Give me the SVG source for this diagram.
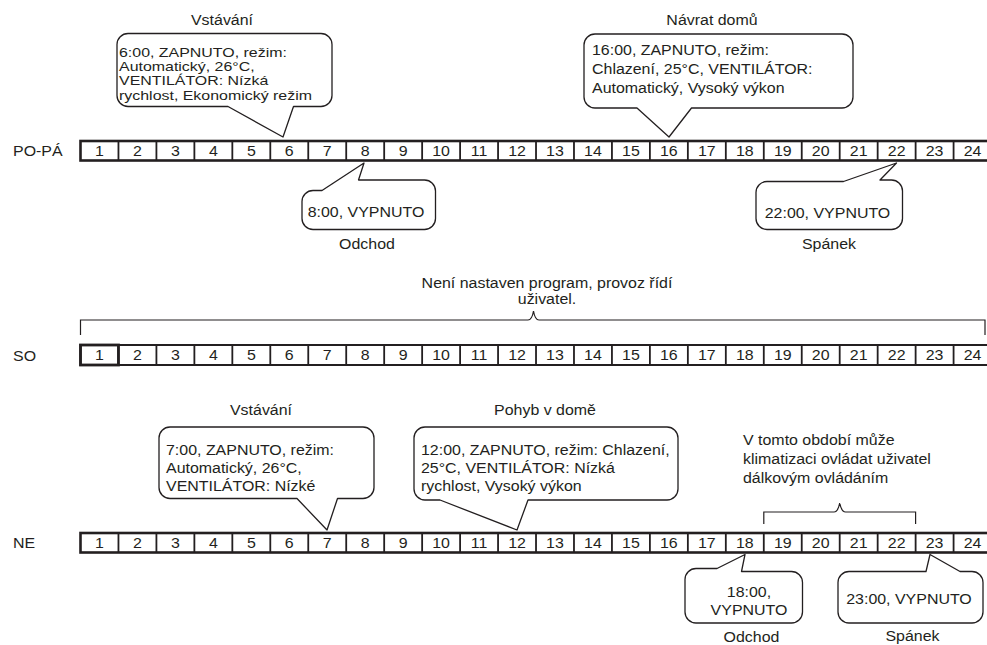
<svg xmlns="http://www.w3.org/2000/svg" xmlns:xlink="http://www.w3.org/1999/xlink" width="987" height="645" viewBox="0 0 987 645">
<style>
.t{font-family:"Liberation Sans",Arial,Helvetica,sans-serif;font-size:14.5px;fill:#231f20}
.s{font-size:12.6px}
.m{text-anchor:middle}
.box{fill:#fff;stroke:#231f20;stroke-width:2.6}
.box2{fill:#fff;stroke:#231f20;stroke-width:2}
.sep{fill:none;stroke:#231f20;stroke-width:1.8}
.bub{fill:#fff;stroke:#231f20;stroke-width:1.3;stroke-linejoin:round}
.br{fill:none;stroke:#231f20;stroke-width:1.2}
</style>
<defs>
<path id="seps" class="sep" d="M118.46 0V20M156.42 0V20M194.38 0V20M232.34 0V20M270.3 0V20M308.26 0V20M346.22 0V20M384.18 0V20M422.14 0V20M460.1 0V20M498.06 0V20M536.02 0V20M573.98 0V20M611.94 0V20M649.9 0V20M687.86 0V20M725.82 0V20M763.78 0V20M801.74 0V20M839.7 0V20M877.66 0V20M915.62 0V20M953.58 0V20"/>
</defs>

<rect width="987" height="645" fill="#fff"/>

<!-- Row PO-PA -->
<g id="row-popa">
<text class="t" transform="translate(13 156) scale(1.1 1)">PO-PÁ</text>
<rect class="box" x="80.5" y="141" width="911" height="19.5"/>
<use xlink:href="#seps" y="140.7"/>
<g class="t m" transform="scale(1.1 1)">
<text x="90.44" y="156">1</text><text x="124.95" y="156">2</text><text x="159.46" y="156">3</text><text x="193.97" y="156">4</text><text x="228.48" y="156">5</text><text x="262.98" y="156">6</text><text x="297.49" y="156">7</text><text x="332" y="156">8</text><text x="366.51" y="156">9</text><text x="401.02" y="156">10</text><text x="435.53" y="156">11</text><text x="470.04" y="156">12</text><text x="504.55" y="156">13</text><text x="539.05" y="156">14</text><text x="573.56" y="156">15</text><text x="608.07" y="156">16</text><text x="642.58" y="156">17</text><text x="677.09" y="156">18</text><text x="711.6" y="156">19</text><text x="746.11" y="156">20</text><text x="780.62" y="156">21</text><text x="815.13" y="156">22</text><text x="849.64" y="156">23</text><text x="884.15" y="156">24</text>
</g>
</g>

<!-- Row SO -->
<g id="row-so">
<text class="t" transform="translate(13 360.5) scale(1.1 1)">SO</text>
<rect class="box2" x="80.5" y="345" width="911" height="20"/>
<use xlink:href="#seps" y="345"/>
<rect x="80.5" y="345" width="37.96" height="20" fill="none" stroke="#231f20" stroke-width="2.8"/>
<g class="t m" transform="scale(1.1 1)">
<text x="90.44" y="360.5">1</text><text x="124.95" y="360.5">2</text><text x="159.46" y="360.5">3</text><text x="193.97" y="360.5">4</text><text x="228.48" y="360.5">5</text><text x="262.98" y="360.5">6</text><text x="297.49" y="360.5">7</text><text x="332" y="360.5">8</text><text x="366.51" y="360.5">9</text><text x="401.02" y="360.5">10</text><text x="435.53" y="360.5">11</text><text x="470.04" y="360.5">12</text><text x="504.55" y="360.5">13</text><text x="539.05" y="360.5">14</text><text x="573.56" y="360.5">15</text><text x="608.07" y="360.5">16</text><text x="642.58" y="360.5">17</text><text x="677.09" y="360.5">18</text><text x="711.6" y="360.5">19</text><text x="746.11" y="360.5">20</text><text x="780.62" y="360.5">21</text><text x="815.13" y="360.5">22</text><text x="849.64" y="360.5">23</text><text x="884.15" y="360.5">24</text>
</g>
</g>

<!-- Row NE -->
<g id="row-ne">
<text class="t" transform="translate(13 548) scale(1.1 1)">NE</text>
<rect class="box" x="80.5" y="533" width="911" height="19.5"/>
<use xlink:href="#seps" y="532.7"/>
<g class="t m" transform="scale(1.1 1)">
<text x="90.44" y="548">1</text><text x="124.95" y="548">2</text><text x="159.46" y="548">3</text><text x="193.97" y="548">4</text><text x="228.48" y="548">5</text><text x="262.98" y="548">6</text><text x="297.49" y="548">7</text><text x="332" y="548">8</text><text x="366.51" y="548">9</text><text x="401.02" y="548">10</text><text x="435.53" y="548">11</text><text x="470.04" y="548">12</text><text x="504.55" y="548">13</text><text x="539.05" y="548">14</text><text x="573.56" y="548">15</text><text x="608.07" y="548">16</text><text x="642.58" y="548">17</text><text x="677.09" y="548">18</text><text x="711.6" y="548">19</text><text x="746.11" y="548">20</text><text x="780.62" y="548">21</text><text x="815.13" y="548">22</text><text x="849.64" y="548">23</text><text x="884.15" y="548">24</text>
</g>
</g>

<!-- Callouts PO-PA -->
<g id="callout-popa-6">
<text class="t m" transform="translate(222 25) scale(1.1 1)">Vstávání</text>
<path class="bub" d="M128,33.5H321A11,11 0 0 1 332,44.5V95.5A11,11 0 0 1 321,106.5H293.5L283,137L228,106.5H128A11,11 0 0 1 117,95.5V44.5A11,11 0 0 1 128,33.5Z"/>
<text class="t s" transform="translate(119 56.5) scale(1.265 1)"><tspan x="0" y="0">6:00, ZAPNUTO, režim:</tspan><tspan x="0" y="14.4">Automatický, 26°C,</tspan><tspan x="0" y="28.8">VENTILÁTOR: Nízká</tspan><tspan x="0" y="43.2">rychlost, Ekonomický režim</tspan></text>
</g>

<g id="callout-popa-16">
<text class="t m" transform="translate(712 25) scale(1.1 1)">Návrat domů</text>
<path class="bub" d="M595,34H842A11,11 0 0 1 853,45V97A11,11 0 0 1 842,108H691.5L669,137L637,108H595A11,11 0 0 1 584,97V45A11,11 0 0 1 595,34Z"/>
<text class="t" transform="translate(592 55) scale(1.1 1)"><tspan x="0" y="0">16:00, ZAPNUTO, režim:</tspan><tspan x="0" y="19">Chlazení, 25°C, VENTILÁTOR:</tspan><tspan x="0" y="38">Automatický, Vysoký výkon</tspan></text>
</g>

<g id="callout-popa-8">
<path class="bub" d="M313,190.5H322L364,163L358.5,180H424.5A11,11 0 0 1 435.5,191V218.5A11,11 0 0 1 424.5,229.5H313A11,11 0 0 1 302,218.5V201.5A11,11 0 0 1 313,190.5Z"/>
<text class="t m" transform="translate(366 217) scale(1.1 1)">8:00, VYPNUTO</text>
<text class="t m" transform="translate(367 249) scale(1.1 1)">Odchod</text>
</g>

<g id="callout-popa-22">
<path class="bub" d="M767,181.5H843.5L896.5,163L880,180H891.5A11,11 0 0 1 902.5,191V218.5A11,11 0 0 1 891.5,229.5H767A11,11 0 0 1 756,218.5V192.5A11,11 0 0 1 767,181.5Z"/>
<text class="t m" transform="translate(827.5 217.5) scale(1.1 1)">22:00, VYPNUTO</text>
<text class="t m" transform="translate(829 249) scale(1.1 1)">Spánek</text>
</g>

<!-- SO note -->
<g id="note-so">
<text class="t m" transform="translate(547 287.5) scale(1.1 1)"><tspan x="0" y="0">Není nastaven program, provoz řídí</tspan><tspan x="0" y="16.5">uživatel.</tspan></text>
</g>

<!-- Callouts NE -->
<g id="callout-ne-7">
<text class="t m" transform="translate(261 415) scale(1.1 1)">Vstávání</text>
<path class="bub" d="M170,427H363A11,11 0 0 1 374,438V487.5A11,11 0 0 1 363,498.5H337.5L327,530L297,498.5H170A11,11 0 0 1 159,487.5V438A11,11 0 0 1 170,427Z"/>
<text class="t" transform="translate(166 455) scale(1.1 1)"><tspan x="0" y="0">7:00, ZAPNUTO, režim:</tspan><tspan x="0" y="18">Automatický, 26°C,</tspan><tspan x="0" y="36">VENTILÁTOR: Nízké</tspan></text>
</g>

<g id="callout-ne-12">
<text class="t m" transform="translate(545 415) scale(1.1 1)">Pohyb v domě</text>
<path class="bub" d="M425,427H667A11,11 0 0 1 678,438V489A11,11 0 0 1 667,500H528L517,530L440,500H425A11,11 0 0 1 414,489V438A11,11 0 0 1 425,427Z"/>
<text class="t" transform="translate(421 455) scale(1.1 1)"><tspan x="0" y="0">12:00, ZAPNUTO, režim: Chlazení,</tspan><tspan x="0" y="18">25°C, VENTILÁTOR: Nízká</tspan><tspan x="0" y="36">rychlost, Vysoký výkon</tspan></text>
</g>

<g id="note-ne">
<text class="t" transform="translate(743 445) scale(1.1 1)"><tspan x="0" y="0">V tomto období může</tspan><tspan x="0" y="19">klimatizaci ovládat uživatel</tspan><tspan x="0" y="38">dálkovým ovládáním</tspan></text>
</g>

<g id="callout-ne-18">
<path class="bub" d="M696,568.5H717L745,554.5L741.5,571.5H791.5A11,11 0 0 1 802.5,582.5V612A11,11 0 0 1 791.5,623H696A11,11 0 0 1 685,612V579.5A11,11 0 0 1 696,568.5Z"/>
<text class="t m" transform="translate(749 596.5) scale(1.1 1)"><tspan x="0" y="0">18:00,</tspan><tspan x="0" y="18.5">VYPNUTO</tspan></text>
<text class="t m" transform="translate(751.5 642) scale(1.1 1)">Odchod</text>
</g>

<g id="callout-ne-23">
<path class="bub" d="M849,571.5H926L930,554.5L960,571.5H972A11,11 0 0 1 983,582.5V612A11,11 0 0 1 972,623H849A11,11 0 0 1 838,612V582.5A11,11 0 0 1 849,571.5Z"/>
<text class="t m" transform="translate(909 604) scale(1.1 1)">23:00, VYPNUTO</text>
<text class="t m" transform="translate(912.5 641) scale(1.1 1)">Spánek</text>
</g>

<!-- Connectors: braces -->
<g id="connectors">
<path class="br" d="M80.5,335V320H528Q532,320 533.5,311Q535,320 539,320H985V335"/>
<path class="br" d="M763.8,524V512H834Q838,512 839.7,503Q841.5,512 845.5,512H915.6V524"/>
</g>
</svg>
